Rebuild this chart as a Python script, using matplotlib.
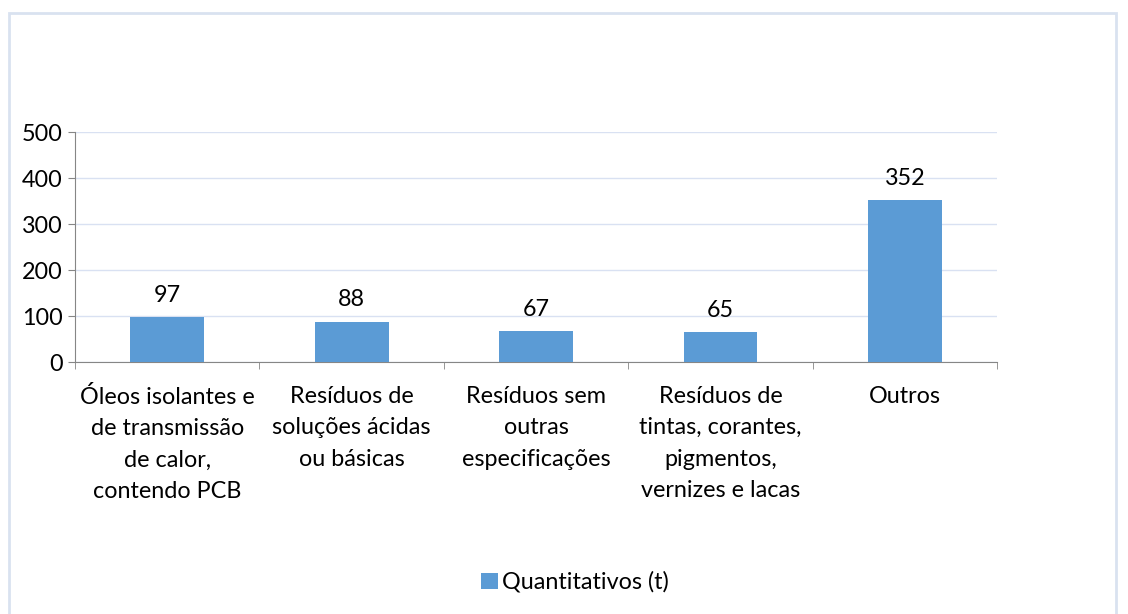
import numpy as np
import matplotlib.pyplot as plt
from matplotlib.patches import Rectangle

categorias = ['Óleos isolantes e\nde transmissão\nde calor,\ncontendo PCB',
              'Resíduos de\nsoluções ácidas\nou básicas',
              'Resíduos sem\noutras\nespecificações',
              'Resíduos de\ntintas, corantes,\npigmentos,\nvernizes e lacas',
              'Outros']
quantitativos = [97, 88, 67, 65, 352]
yticks = [0, 100, 200, 300, 400, 500]

plt.rcParams['font.family'] = ['Lato', 'DejaVu Sans']
fs = 16.8

fig = plt.figure(figsize=(11.28, 6.14), dpi=100)
fig.patches.append(Rectangle((0.008, -0.05), 0.981, 1.029, transform=fig.transFigure,
                             fill=False, edgecolor='#d9e2f0', linewidth=2))
ax = fig.add_axes([0.0665, 0.4104, 0.8175, 0.3746])

x = np.arange(len(categorias))
bars = ax.bar(x, quantitativos, width=0.4, color='#5b9bd5', label='Quantitativos (t)', zorder=3)
for xi, v in zip(x, quantitativos):
    ax.annotate(str(v), (xi, v), xytext=(0, 8), textcoords='offset points',
                ha='center', va='bottom', fontsize=fs)

ax.set_xlim(-0.5, len(categorias) - 0.5)
ax.set_ylim(0, 500)
ax.set_yticks(yticks)
ax.tick_params(axis='y', labelsize=fs, length=5, color='#868686', pad=4)
ax.set_xticks(x)
ax.set_xticklabels(categorias, fontsize=fs, linespacing=1.62)
ax.tick_params(axis='x', length=0, pad=17)
ax.set_xticks(np.arange(len(categorias) + 1) - 0.5, minor=True)
ax.tick_params(axis='x', which='minor', length=5, color='#868686')
ax.grid(axis='y', color='#d9e1f2', linewidth=1, zorder=0)
for s in ['top', 'right']:
    ax.spines[s].set_visible(False)
for s in ['left', 'bottom']:
    ax.spines[s].set_color('#868686')

fig.legend(handles=[bars], loc='center', bbox_to_anchor=(0.51, 0.052), frameon=False,
           fontsize=fs, handlelength=0.7, handleheight=0.7, handletextpad=0.2)

fig.savefig('out.png', dpi=100)
